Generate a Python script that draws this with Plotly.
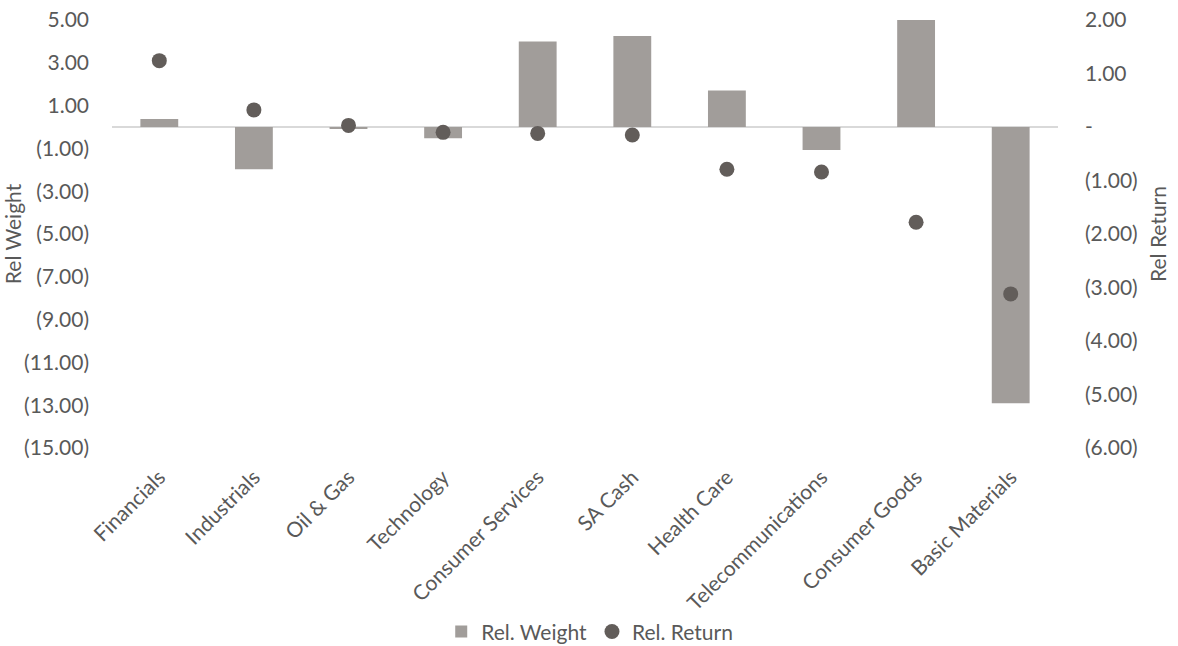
import plotly.graph_objects as go

# Sector positioning: relative weight (bars, left axis) and relative return (dots, right axis)
sectors = ["Financials", "Industrials", "Oil & Gas", "Technology", "Consumer Services",
           "SA Cash", "Health Care", "Telecommunications", "Consumer Goods", "Basic Materials"]
rel_weight = [0.37, -1.98, -0.08, -0.53, 3.99, 4.25, 1.70, -1.07, 5.00, -12.91]
rel_return = [1.24, 0.32, 0.03, -0.10, -0.12, -0.15, -0.79, -0.84, -1.78, -3.12]

left_ticks = [5, 3, 1, -1, -3, -5, -7, -9, -11, -13, -15]
left_text = ["5.00", "3.00", "1.00", "(1.00)", "(3.00)", "(5.00)", "(7.00)",
             "(9.00)", "(11.00)", "(13.00)", "(15.00)"]
right_ticks = [2, 1, 0, -1, -2, -3, -4, -5, -6]
right_text = ["2.00", "1.00", "-", "(1.00)", "(2.00)", "(3.00)", "(4.00)", "(5.00)", "(6.00)"]

TEXT = "#595959"
FONT = "Lato"
FS = 21

fig = go.Figure()
fig.add_trace(go.Bar(
    x=sectors, y=rel_weight, name="Rel. Weight",
    marker=dict(color="#A19D9A", line=dict(width=0)),
    yaxis="y",
))
fig.add_trace(go.Scatter(
    x=sectors, y=rel_return, name="Rel. Return", mode="markers",
    marker=dict(color="#625D5A", size=15, symbol="circle"),
    yaxis="y2",
))

fig.update_layout(
    width=1178, height=646,
    margin=dict(l=112, r=120, t=20, b=198),
    paper_bgcolor="white", plot_bgcolor="white",
    font=dict(family=FONT, size=FS, color=TEXT),
    bargap=0.6,
    showlegend=True,
    legend=dict(orientation="h", xanchor="center", x=0.505, yanchor="middle",
                yref="container", y=0.022, font=dict(size=FS, color=TEXT),
                itemwidth=30, traceorder="normal"),
    xaxis=dict(
        range=[-0.5, 9.5], tickangle=-45, showgrid=False, showline=False,
        zeroline=False, ticks="", tickfont=dict(size=FS, color=TEXT),
        ticklabelstandoff=12, automargin=False,
    ),
    yaxis=dict(
        range=[-15, 5], tickvals=left_ticks, ticktext=left_text,
        showgrid=False, zeroline=True, zerolinecolor="#D9D9D9", zerolinewidth=2,
        showline=False, ticks="", ticklabelstandoff=22, automargin=False,
        title=dict(text="Rel Weight", font=dict(size=FS, color=TEXT), standoff=0),
        tickfont=dict(size=FS, color=TEXT),
    ),
    yaxis2=dict(
        range=[-6, 2], tickvals=right_ticks, ticktext=right_text,
        overlaying="y", side="right", showgrid=False, zeroline=False,
        showline=False, ticks="", ticklabelstandoff=26, automargin=False,
        title=dict(text="Rel Return", font=dict(size=FS, color=TEXT), standoff=14),
        tickfont=dict(size=FS, color=TEXT),
    ),
)

fig.write_html("out.html")
